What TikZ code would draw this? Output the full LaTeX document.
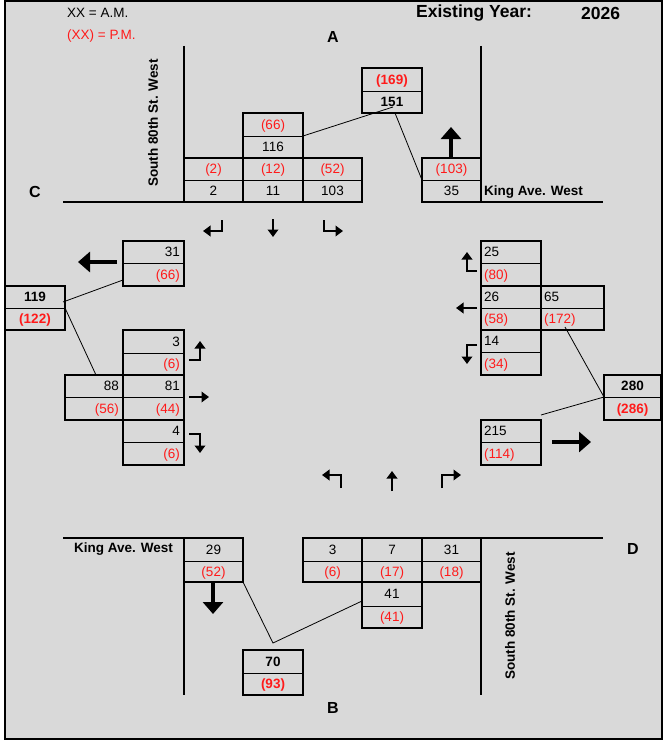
\documentclass[tikz,border=0pt]{standalone}
\usepackage{fontspec}
\setmainfont{Liberation Sans}
\usetikzlibrary{arrows.meta,calc}
\definecolor{bg}{HTML}{D9D9D9}
\definecolor{pm}{HTML}{FF1A1A}
\newcommand\pmv[1]{{\color{pm}#1}}
\newcommand\bpair[9]{%
  \node[cellc,minimum width=#4pt,minimum height=#5pt] (#1a) at (#2,#3) {};
  \node[cellc,minimum width=#4pt,minimum height=#6pt] (#1b) at (#2,#3+#5) {};
  \draw[boxline] (#1a.north west) rectangle (#1b.south east);
  \if c#9
    \node[num] (#1at) at (#1a.center) {#7};
    \node[num] (#1bt) at (#1b.center) {#8};
  \fi
  \if r#9
    \node[num,anchor=east] (#1at) at ([xshift=-4pt]#1a.east) {#7};
    \node[num,anchor=east] (#1bt) at ([xshift=-4pt]#1b.east) {#8};
  \fi
  \if l#9
    \node[num,anchor=west] (#1at) at ([xshift=3pt]#1a.west) {#7};
    \node[num,anchor=west] (#1bt) at ([xshift=3pt]#1b.west) {#8};
  \fi
}
\tikzset{
  cellc/.style={draw=black, line width=0.8pt, inner sep=0pt, outer sep=0pt, anchor=north west},
  boxline/.style={line width=2pt, line join=miter},
  num/.style={inner sep=0pt, font=\fontsize{13.5}{15}\selectfont, text height=9.6pt, text depth=0pt},
  road/.style={line width=1.8pt},
  conn/.style={line width=0.8pt},
  turn/.style={line width=2.8pt, line join=miter, -{Triangle[width=10.5pt,length=7.5pt]}},
  bigarrow/.style={line width=4.8pt, -{Triangle[width=20pt,length=12pt]}},
  lbl/.style={inner sep=0pt, font=\fontsize{13.5}{15}\selectfont},
  streetlbl/.style={inner sep=0pt, font=\bfseries\fontsize{13.5}{15}\selectfont},
  corner/.style={inner sep=0pt, font=\bfseries\fontsize{16}{18}\selectfont},
  head/.style={inner sep=0pt, font=\bfseries\fontsize{17.5}{19}\selectfont, anchor=west}
}
\begin{document}
\begin{tikzpicture}[x=1pt,y=-1pt]
\useasboundingbox (0,0) rectangle (663,741);
\fill[bg] (5,1) rectangle (662,739);
\draw[line width=2pt] (5,1) rectangle (662,739);

% header texts
\node[lbl,anchor=west] (amkey) at (67,13) {XX = A.M.};
\node[lbl,anchor=west,text=pm] (pmkey) at (67,36) {(XX) = P.M.};
\node[head] (yearlbl) at (416,13) {Existing Year:};
\node[head] (yearval) at (581,13) {2026};
\node[corner] (A) at (333,37) {A};
\node[corner] (B) at (333,708) {B};
\node[corner] (C) at (35,192) {C};
\node[corner] (D) at (633,549) {D};

% roads
\draw[road] (184,46) -- (184,202);
\draw[road] (481,46) -- (481,202);
\draw[road] (63,202) -- (362,202);
\draw[road] (422,202) -- (603,202);
\draw[road] (63,538) -- (243,538);
\draw[road] (303,538) -- (603,538);
\draw[road] (184,538) -- (184,695);
\draw[road] (481,538) -- (481,695);

\node[streetlbl,rotate=90] (s80a) at (153,123) {South 80th St. West};
\node[streetlbl,rotate=90] (s80b) at (510,616) {South 80th St. West};
\node[streetlbl,anchor=west] (kinga) at (484,192) {King Ave. West};
\node[streetlbl,anchor=east] (kingb) at (173,549) {King Ave. West};

% top (A) boxes
\bpair{tL}{184}{158}{59}{22}{22}{\pmv{(2)}}{2}{c}
\bpair{tT}{243}{158}{60}{22}{22}{\pmv{(12)}}{11}{c}
\bpair{tR}{303}{158}{59}{22}{22}{\pmv{(52)}}{103}{c}
\bpair{tIn}{243}{113}{60}{23}{22}{\pmv{(66)}}{116}{c}
\bpair{tTot}{362}{68}{60}{23}{22}{\textbf{\pmv{(169)}}}{\textbf{151}}{c}
\bpair{tOut}{422}{158}{59}{22}{22}{\pmv{(103)}}{35}{c}

% left (C) boxes
\bpair{lOut}{123}{241}{61}{22}{23}{31}{\pmv{(66)}}{r}
\bpair{lTot}{5}{286}{60}{22}{22}{\textbf{119}}{\textbf{\pmv{(122)}}}{c}
\bpair{lL}{123}{330}{61}{23}{22}{3}{\pmv{(6)}}{r}
\bpair{lIn}{65}{375}{58}{22}{23}{88}{\pmv{(56)}}{r}
\bpair{lT}{123}{375}{61}{22}{23}{81}{\pmv{(44)}}{r}
\bpair{lR}{123}{420}{61}{22}{23}{4}{\pmv{(6)}}{r}

% right (D) boxes
\bpair{rL}{481}{241}{60}{22}{23}{25}{\pmv{(80)}}{l}
\bpair{rT}{481}{286}{60}{22}{22}{26}{\pmv{(58)}}{l}
\bpair{rIn}{541}{286}{63}{22}{22}{65}{\pmv{(172)}}{l}
\bpair{rR}{481}{330}{60}{22}{23}{14}{\pmv{(34)}}{l}
\bpair{rTot}{604}{375}{57}{22}{23}{\textbf{280}}{\textbf{\pmv{(286)}}}{c}
\bpair{rOut}{481}{420}{60}{22}{23}{215}{\pmv{(114)}}{l}

% bottom (B) boxes
\bpair{bOut}{184}{538}{59}{23}{21}{29}{\pmv{(52)}}{c}
\bpair{bL}{303}{538}{59}{23}{21}{3}{\pmv{(6)}}{c}
\bpair{bT}{362}{538}{60}{23}{21}{7}{\pmv{(17)}}{c}
\bpair{bR}{422}{538}{59}{23}{21}{31}{\pmv{(18)}}{c}
\bpair{bIn}{362}{582}{60}{24}{22}{41}{\pmv{(41)}}{c}
\bpair{bTot}{243}{650}{60}{23}{22}{\textbf{70}}{\textbf{\pmv{(93)}}}{c}

% connectors
\coordinate (tj) at ($(tTotb.center)+(1,5)$);
\draw[conn] (tInb.north east) -- (tj);
\draw[conn] ($(tTotb.south)+(3,0)$) -- (tOuta.south west);
\draw[conn] ($(lTota.south east)+(-2,-6)$) -- ($(lOutb.south west)+(0,-6)$);
\draw[conn] (lTotb.north east) -- ($(lIna.north)+(2,0)$);
\draw[conn] ($(rInb.center)+(-7.5,8)$) -- (rTota.south west) -- ($(rOuta.north east)+(0,-5)$);
\coordinate (bj) at ($(bTota.north)+(0,-7)$);
\draw[conn] (bOutb.south east) -- (bj) -- ($(bInb.north west)+(0,-5)$);

% big arrows
\draw[bigarrow] (451,158) -- (451,127);
\draw[bigarrow] (117,262) -- (78,262);
\draw[bigarrow] (552,442) -- (591,442);
\draw[bigarrow] (213,582) -- (213,614);

% turn arrows top
\draw[turn] (222,220) -- (222,231) -- (203,231);
\draw[turn] (273,219) -- (273,237);
\draw[turn] (324,220) -- (324,231) -- (343,231);
% bottom
\draw[turn] (341,488) -- (341,475) -- (322,475);
\draw[turn] (392,491) -- (392,471);
\draw[turn] (442,488) -- (442,475) -- (461,475);
% left
\draw[turn] (189,360) -- (200,360) -- (200,341);
\draw[turn] (189,397) -- (209,397);
\draw[turn] (189,434) -- (200,434) -- (200,453);
% right
\draw[turn] (477,271) -- (467,271) -- (467,252);
\draw[turn] (477,308) -- (456,308);
\draw[turn] (477,345) -- (467,345) -- (467,364);
\end{tikzpicture}
\end{document}
